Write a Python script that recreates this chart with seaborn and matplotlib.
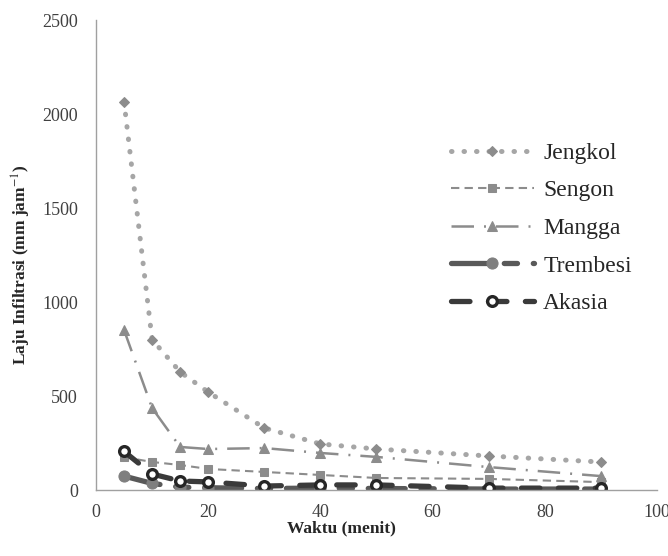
import matplotlib
matplotlib.use("Agg")
import matplotlib.pyplot as plt
import pandas as pd
import seaborn as sns

# =========================================================
# Data
# =========================================================

waktu = [5, 10, 15, 20, 30, 40, 50, 70, 90]

jengkol = [2065, 800, 628, 521, 330, 245, 218, 181, 149]
sengon = [175, 149, 133, 112, 96, 80, 64, 59, 42]
mangga = [851, 436, 229, 218, 223, 197, 176, 122, 74]
trembesi = [74, 35, 15, 12, 8, 10, 8, 5, 5]
akasia = [205, 85, 48, 43, 21, 27, 27, 10, 10]

series_names = ["Jengkol", "Sengon", "Mangga", "Trembesi", "Akasia"]
series_values = [jengkol, sengon, mangga, trembesi, akasia]

x_ticks = [0, 20, 40, 60, 80, 100]
y_ticks = [0, 500, 1000, 1500, 2000, 2500]

df = pd.DataFrame({
    "Waktu": waktu * len(series_names),
    "Laju": sum(series_values, []),
    "Jenis": [n for n in series_names for _ in waktu],
})

# =========================================================
# Styles
# =========================================================

styles = {
    "Jengkol": dict(color="#a6a6a6", linestyle=(0, (0.1, 2.4)), lw=3.6,
                    marker="D", ms=5, mfc="#8c8c8c", mec="#8c8c8c",
                    dash_capstyle="round"),
    "Sengon": dict(color="#8c8c8c", linestyle=(0, (4, 2.5)), lw=1.5,
                   marker="s", ms=6, mfc="#8c8c8c", mec="#8c8c8c"),
    "Mangga": dict(color="#8c8c8c", linestyle=(0, (9, 4, 0.8, 4)), lw=1.8,
                   marker="^", ms=7, mfc="#8c8c8c", mec="#8c8c8c"),
    "Trembesi": dict(color="#595959", linestyle=(0, (7, 3, 2.5, 3)), lw=3.8,
                     marker="o", ms=8, mfc="#7f7f7f", mec="#7f7f7f",
                     dash_capstyle="round"),
    "Akasia": dict(color="#3a3a3a", linestyle=(0, (3.5, 3.5)), lw=3.8,
                   marker="o", ms=7, mfc="white", mec="#262626", mew=2.4,
                   dash_capstyle="round"),
}

# =========================================================
# Plot
# =========================================================

sns.set_style("white")
plt.rcParams["font.family"] = ["Liberation Serif", "DejaVu Serif"]
plt.rcParams["mathtext.fontset"] = "stix"

fig = plt.figure(figsize=(6.68, 5.56), dpi=100)
ax = fig.add_axes([0.1437, 0.1187, 0.8398, 0.8453])

for name in series_names:
    sub = df[df["Jenis"] == name]
    sns.lineplot(
        data=sub,
        x="Waktu",
        y="Laju",
        ax=ax,
        label=name,
        **styles[name]
    )

ax.set_xlim(0, 100)
ax.set_ylim(0, 2500)
ax.set_xticks(x_ticks)
ax.set_yticks(y_ticks)
ax.tick_params(axis="both", length=0, labelsize=13, colors="#404040")
ax.tick_params(axis="x", pad=10)
ax.tick_params(axis="y", pad=13)

for side in ["top", "right"]:
    ax.spines[side].set_visible(False)
for side in ["left", "bottom"]:
    ax.spines[side].set_color("#a0a0a0")
    ax.spines[side].set_linewidth(1.0)

ax.set_xlabel("Waktu (menit)", fontsize=12.5, fontweight="bold")
ax.set_ylabel(r"Laju Infiltrasi (mm jam$^{-1}$)", fontsize=12.5,
              fontweight="bold")
ax.xaxis.set_label_coords(0.437, -0.064)
ax.yaxis.set_label_coords(-0.112, 0.479)

ax.legend(
    loc="upper left",
    bbox_to_anchor=(0.595, 0.785),
    frameon=False,
    fontsize=17,
    handlelength=3.5,
    handletextpad=0.4,
    labelspacing=0.68,
    labelcolor="#262626",
)

plt.savefig("out.png", dpi=100)
